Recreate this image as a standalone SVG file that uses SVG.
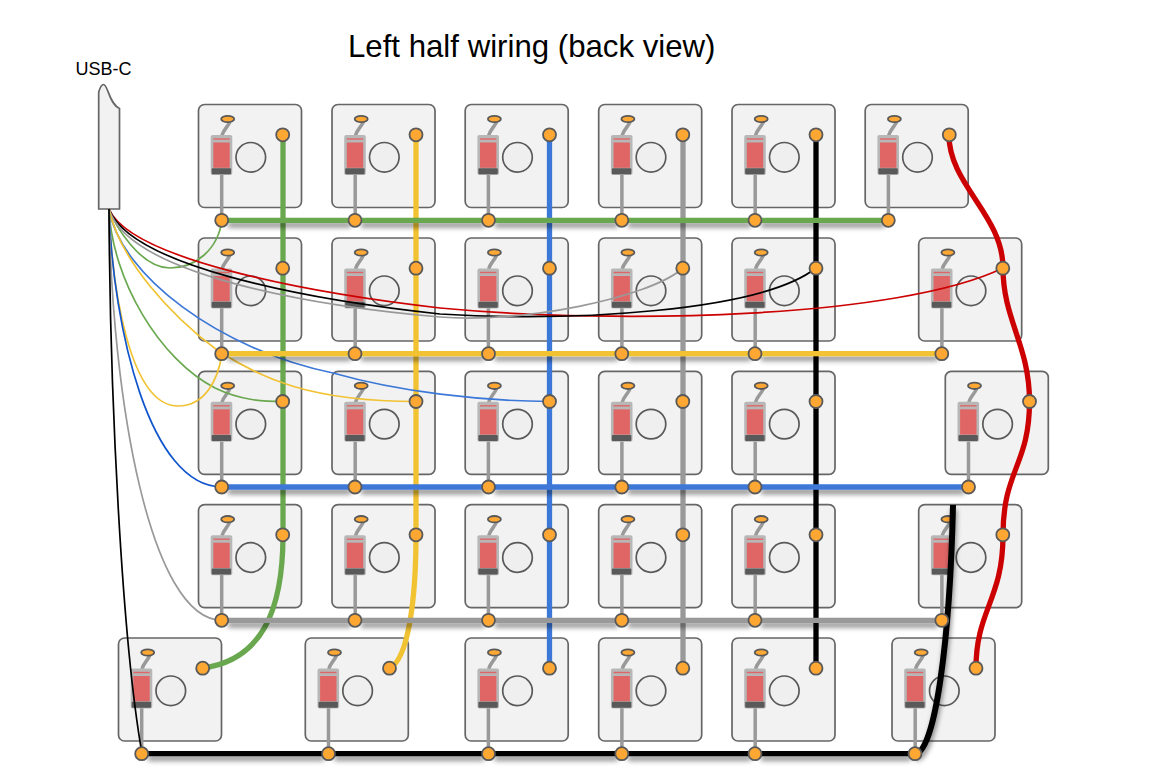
<svg xmlns="http://www.w3.org/2000/svg" width="1174" height="784" viewBox="0 0 1174 784">
<style>
text{font-family:"Liberation Sans",Arial,sans-serif;fill:#000}
.box{fill:#f2f2f2;stroke:#666;stroke-width:1.700}
.pad{fill:#ffa733;stroke:#595959;stroke-width:1.800}
.thick{fill:none;stroke-width:5.300}
.seg{fill:none;stroke-width:5.300;filter:url(#sh)}
.thin{fill:none;stroke-width:1.700}
.g{stroke:#6aa84f}.y{stroke:#f1c232}.b{stroke:#3c78d8}.a{stroke:#999}.k{stroke:#000}.r{stroke:#c00}.b2{stroke:#1155cc}
</style>
<defs>
<filter id="sh" x="0" y="0" width="1174" height="784" filterUnits="userSpaceOnUse" primitiveUnits="userSpaceOnUse"><feDropShadow dx="1" dy="4.500" stdDeviation="2.500" flood-color="#000" flood-opacity=".45"/></filter>
<g id="sw">
<rect class="box" x="0" y="0" width="103" height="103" rx="6"/>
<path d="M23.200 115V70" stroke="#999" stroke-width="3.500" fill="none"/>
<path d="M23.500 31C25 25 29 23 31.500 17" stroke="#999" stroke-width="3.500" fill="none"/>
<rect x="12.200" y="30.500" width="21.600" height="40" rx="2" fill="#b7b7b7"/>
<rect x="14.800" y="38" width="16.400" height="25.300" fill="#e06666"/>
<rect x="14.800" y="33.800" width="16.400" height="1.400" fill="#e06666"/>
<rect x="13.200" y="63.800" width="19.400" height="6" rx="1" fill="#595959"/>
<circle cx="52.300" cy="52.800" r="14.800" fill="#efefef" stroke="#595959" stroke-width="1.700"/>
<ellipse cx="29.200" cy="14.500" rx="6.500" ry="3.200" class="pad"/>
</g>
</defs>
<text x="348" y="57" font-size="31.200">Left half wiring (back view)</text>
<text x="103.500" y="75" font-size="18" text-anchor="middle">USB-C</text>
<g id="usb-c"><path d="M98.700 209V92C100 88 101 84.500 103.500 84.500C108 84.500 109 104 119.500 108.500V209Z" fill="#f2f2f2" stroke="#666" stroke-width="1.700"/></g>
<g id="nodes">
<use id="sw-r1c1" href="#sw" x="198.500" y="104.500"/><use id="sw-r1c2" href="#sw" x="332" y="104.500"/><use id="sw-r1c3" href="#sw" x="465.200" y="104.500"/><use id="sw-r1c4" href="#sw" x="598.700" y="104.500"/><use id="sw-r1c5" href="#sw" x="732" y="104.500"/><use id="sw-r1c6" href="#sw" x="865.200" y="104.500"/>
<use id="sw-r2c1" href="#sw" x="198.500" y="238"/><use id="sw-r2c2" href="#sw" x="332" y="238"/><use id="sw-r2c3" href="#sw" x="465.200" y="238"/><use id="sw-r2c4" href="#sw" x="598.700" y="238"/><use id="sw-r2c5" href="#sw" x="732" y="238"/><use id="sw-r2c6" href="#sw" x="918.700" y="238"/>
<use id="sw-r3c1" href="#sw" x="198.500" y="371.300"/><use id="sw-r3c2" href="#sw" x="332" y="371.300"/><use id="sw-r3c3" href="#sw" x="465.200" y="371.300"/><use id="sw-r3c4" href="#sw" x="598.700" y="371.300"/><use id="sw-r3c5" href="#sw" x="732" y="371.300"/><use id="sw-r3c6" href="#sw" x="945.300" y="371.300"/>
<use id="sw-r4c1" href="#sw" x="198.500" y="504.700"/><use id="sw-r4c2" href="#sw" x="332" y="504.700"/><use id="sw-r4c3" href="#sw" x="465.200" y="504.700"/><use id="sw-r4c4" href="#sw" x="598.700" y="504.700"/><use id="sw-r4c5" href="#sw" x="732" y="504.700"/><use id="sw-r4c6" href="#sw" x="918.700" y="504.700"/>
<use id="sw-r5c1" href="#sw" x="118.500" y="638"/><use id="sw-r5c2" href="#sw" x="305.300" y="638"/><use id="sw-r5c3" href="#sw" x="465.200" y="638"/><use id="sw-r5c4" href="#sw" x="598.700" y="638"/><use id="sw-r5c5" href="#sw" x="732" y="638"/><use id="sw-r5c6" href="#sw" x="892" y="638"/>
</g>
<g id="connectors">
<path class="thick g" d="M283 135V535C283 610 262 660 203 668"/>
<path class="thick y" d="M416 135V535C416 600 408 660 389.500 668"/>
<path class="thick b" d="M549.500 135V668"/>
<path class="thick a" d="M683 135V668"/>
<path class="thick k" d="M816 135V668"/>
<path class="thick r" d="M949 135C949 185 1003 215 1003 268C1003 320 1029.500 345 1029.500 401.500C1029.500 465 1003 470 1003 535C1003 600 976 610 976 668"/>
<path class="thin g" d="M109 209C115 225 140 268 170 268C195 268 218 250 222 220"/>
<path class="thin r" d="M109 209C130 258 300 292 440 308C620 325 900 318 1003 268"/>
<path class="thin k" d="M109 209C130 265 300 299 440 314C570 322 760 312 816 268"/>
<path class="thin a" d="M109 209C128 272 300 305 440 317C520 323.800 650 298 683 268"/>
<path class="thin b" d="M109 209C120 275 220 350 333 373C400 392 480 401 549.500 401.500"/>
<path class="thin y" d="M109 209C120 260 170 315 217 350C260 378 310 401.500 416 401.500"/>
<path class="thin g" d="M109 209C112 280 160 360 215 388C240 400 262 401.500 283 401.500"/>
<path class="thin y" d="M109 209C112 290 130 406 178 406C205 406 218 380 222 354"/>
<path class="thin b2" d="M109 209C113 330 150 487 222 487"/>
<path class="thin a" d="M109 209C112 400 150 620 222 620.300"/>
<path class="thin k" d="M109 209C110 400 122 640 142 753.500"/>
<path class="seg g" d="M227 220.300H350"/><path class="seg g" d="M360 220.300H483.500"/><path class="seg g" d="M493.500 220.300H617"/><path class="seg g" d="M627 220.300H750"/><path class="seg g" d="M760 220.300H883.500"/>
<path class="seg y" d="M227 353.700H350"/><path class="seg y" d="M360 353.700H483.500"/><path class="seg y" d="M493.500 353.700H617"/><path class="seg y" d="M627 353.700H750"/><path class="seg y" d="M760 353.700H937"/>
<path class="seg b" d="M227 487H350"/><path class="seg b" d="M360 487H483.500"/><path class="seg b" d="M493.500 487H617"/><path class="seg b" d="M627 487H750"/><path class="seg b" d="M760 487H963.500"/>
<path class="seg a" d="M227 620.300H350"/><path class="seg a" d="M360 620.300H483.500"/><path class="seg a" d="M493.500 620.300H617"/><path class="seg a" d="M627 620.300H750"/><path class="seg a" d="M760 620.300H937"/>
<path class="seg k" d="M147 753.700H323.500"/><path class="seg k" d="M333.500 753.700H483.500"/><path class="seg k" d="M493.500 753.700H617"/><path class="seg k" d="M627 753.700H750"/><path class="seg k" d="M760 753.700H910"/>
<path class="seg k" style="stroke-width:6" d="M915 753.700C935 753.700 950 640 953 505"/>
</g>
<g id="pads">
<circle class="pad" cx="282.700" cy="134.800" r="6.500"/><circle class="pad" cx="416" cy="134.800" r="6.500"/><circle class="pad" cx="549.500" cy="134.800" r="6.500"/><circle class="pad" cx="682.800" cy="134.800" r="6.500"/><circle class="pad" cx="816" cy="134.800" r="6.500"/><circle class="pad" cx="949.300" cy="134.800" r="6.500"/>
<circle class="pad" cx="282.700" cy="268.200" r="6.500"/><circle class="pad" cx="416" cy="268.200" r="6.500"/><circle class="pad" cx="549.500" cy="268.200" r="6.500"/><circle class="pad" cx="682.800" cy="268.200" r="6.500"/><circle class="pad" cx="816" cy="268.200" r="6.500"/><circle class="pad" cx="1002.800" cy="268.200" r="6.500"/>
<circle class="pad" cx="282.700" cy="401.500" r="6.500"/><circle class="pad" cx="416" cy="401.500" r="6.500"/><circle class="pad" cx="549.500" cy="401.500" r="6.500"/><circle class="pad" cx="682.800" cy="401.500" r="6.500"/><circle class="pad" cx="816" cy="401.500" r="6.500"/><circle class="pad" cx="1029.500" cy="401.500" r="6.500"/>
<circle class="pad" cx="282.700" cy="534.800" r="6.500"/><circle class="pad" cx="416" cy="534.800" r="6.500"/><circle class="pad" cx="549.500" cy="534.800" r="6.500"/><circle class="pad" cx="682.800" cy="534.800" r="6.500"/><circle class="pad" cx="816" cy="534.800" r="6.500"/><circle class="pad" cx="1002.800" cy="534.800" r="6.500"/>
<circle class="pad" cx="202.700" cy="668.200" r="6.500"/><circle class="pad" cx="389.500" cy="668.200" r="6.500"/><circle class="pad" cx="549.500" cy="668.200" r="6.500"/><circle class="pad" cx="682.800" cy="668.200" r="6.500"/><circle class="pad" cx="816" cy="668.200" r="6.500"/><circle class="pad" cx="976" cy="668.200" r="6.500"/>
<circle class="pad" cx="221.700" cy="220.300" r="6.500"/><circle class="pad" cx="355" cy="220.300" r="6.500"/><circle class="pad" cx="488.500" cy="220.300" r="6.500"/><circle class="pad" cx="621.800" cy="220.300" r="6.500"/><circle class="pad" cx="755" cy="220.300" r="6.500"/><circle class="pad" cx="888.300" cy="220.300" r="6.500"/>
<circle class="pad" cx="221.700" cy="353.700" r="6.500"/><circle class="pad" cx="355" cy="353.700" r="6.500"/><circle class="pad" cx="488.500" cy="353.700" r="6.500"/><circle class="pad" cx="621.800" cy="353.700" r="6.500"/><circle class="pad" cx="755" cy="353.700" r="6.500"/><circle class="pad" cx="941.800" cy="353.700" r="6.500"/>
<circle class="pad" cx="221.700" cy="487" r="6.500"/><circle class="pad" cx="355" cy="487" r="6.500"/><circle class="pad" cx="488.500" cy="487" r="6.500"/><circle class="pad" cx="621.800" cy="487" r="6.500"/><circle class="pad" cx="755" cy="487" r="6.500"/><circle class="pad" cx="968.500" cy="487" r="6.500"/>
<circle class="pad" cx="221.700" cy="620.300" r="6.500"/><circle class="pad" cx="355" cy="620.300" r="6.500"/><circle class="pad" cx="488.500" cy="620.300" r="6.500"/><circle class="pad" cx="621.800" cy="620.300" r="6.500"/><circle class="pad" cx="755" cy="620.300" r="6.500"/><circle class="pad" cx="941.800" cy="620.300" r="6.500"/>
<circle class="pad" cx="141.700" cy="753.700" r="6.500"/><circle class="pad" cx="328.500" cy="753.700" r="6.500"/><circle class="pad" cx="488.500" cy="753.700" r="6.500"/><circle class="pad" cx="621.800" cy="753.700" r="6.500"/><circle class="pad" cx="755" cy="753.700" r="6.500"/><circle class="pad" cx="915" cy="753.700" r="6.500"/>
</g>
</svg>
